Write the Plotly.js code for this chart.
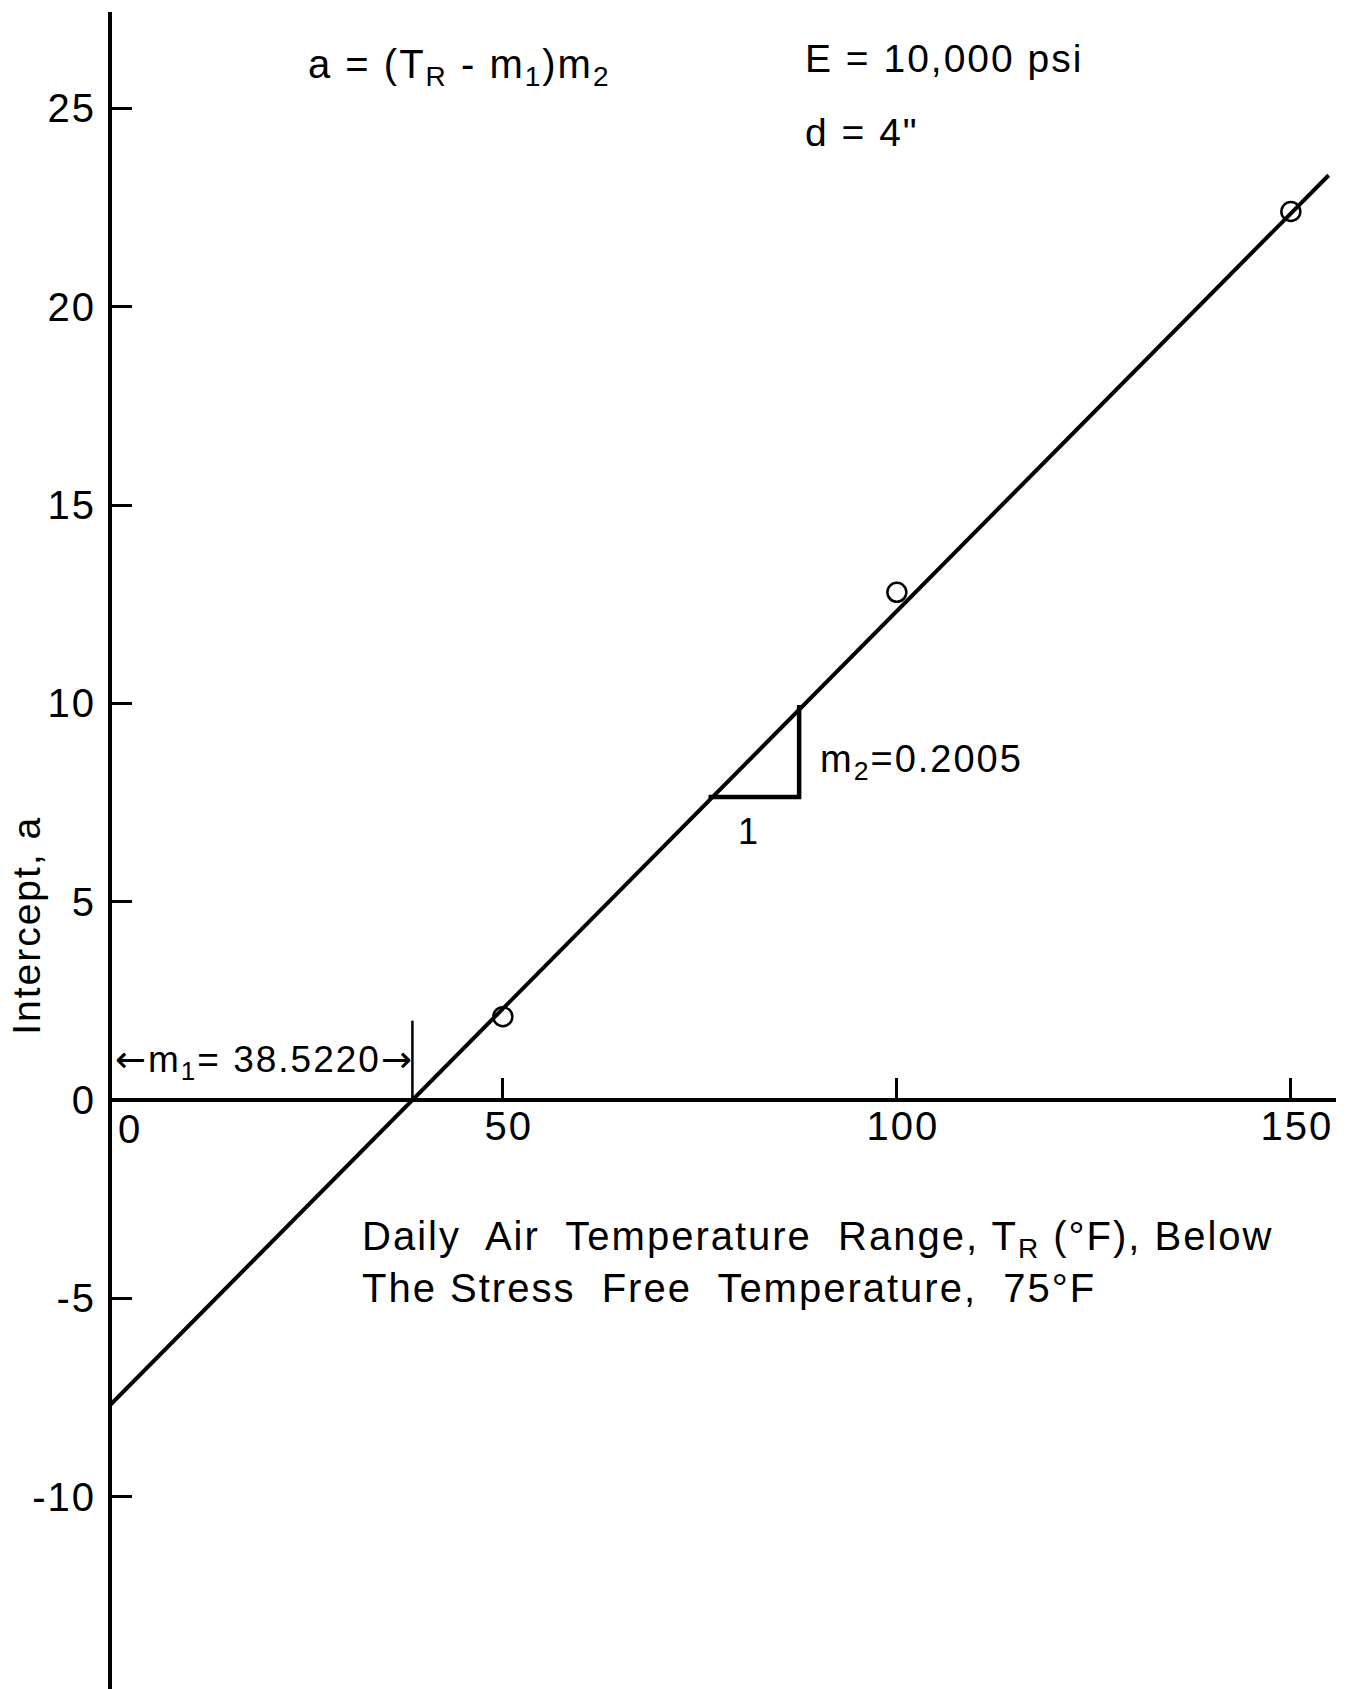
<!DOCTYPE html>
<html>
<head>
<meta charset="utf-8">
<script src="https://cdn.plot.ly/plotly-3.0.1.min.js"></script>
<style>
  html, body { margin: 0; padding: 0; background: #fff; }
  #chart { width: 1355px; height: 1689px; }
  text { letter-spacing: 2px; }
</style>
</head>
<body>
<div id="chart"></div>
<script>
// ---- data ----
const m1 = 38.5220;            // x-intercept of the fit line
const m2 = 0.2005;             // slope of the fit line
const tempRange = [50, 100, 150];          // T_R (°F)
const intercept = [2.1, 12.8, 22.4];       // a
const fitX = [0, 154.8];
const fitY = fitX.map(x => (x - m1) * m2);
const slopeTriX = [76.1, 87.6, 87.6];
const slopeTriY = [7.64, 7.64, 9.96];
const m1MarkX = [m1, m1];
const m1MarkY = [0, 2.0];
const xTickVals = [50, 100, 150];
const xTickText = ['50', '100', '150'];
const yTickVals = [-10, -5, 0, 5, 10, 15, 20, 25];
const yTickText = ['-10', '-5', '0', '5', '10', '15', '20', '25'];

const xRange = [0.4, 155.73];
const yRange = [-14.85, 27.43];
const FONT = 'Liberation Sans, Arial, sans-serif';
const ARROWFONT = 'DejaVu Sans';
const ink = '#000';

const traces = [
  { x: fitX, y: fitY, mode: 'lines', line: { color: ink, width: 4 }, hoverinfo: 'skip' },
  { x: tempRange, y: intercept, mode: 'markers',
    marker: { symbol: 'circle-open', size: 19, color: ink, line: { width: 2.5, color: ink } } },
  { x: slopeTriX, y: slopeTriY, mode: 'lines', line: { color: ink, width: 4.5 } },
  { x: m1MarkX, y: m1MarkY, mode: 'lines', line: { color: ink, width: 2.5 } }
];

const xPos = (0 - yRange[0]) / (yRange[1] - yRange[0]);

const ann = (o, size) => Object.assign({ showarrow: false, font: { family: FONT, size: size, color: ink } }, o);

const layout = {
  width: 1355, height: 1689,
  margin: { l: 112, r: 19, t: 12, b: 0 },
  paper_bgcolor: '#fff', plot_bgcolor: '#fff',
  showlegend: false,
  font: { family: FONT, color: ink },
  xaxis: {
    range: xRange, showgrid: false, zeroline: false,
    showline: true, linewidth: 4, linecolor: ink,
    ticks: 'inside', ticklen: 20, tickwidth: 3, tickcolor: ink,
    tickvals: xTickVals, ticktext: xTickText,
    tickfont: { family: FONT, size: 40, color: ink },
    anchor: 'free', position: xPos, ticklabelstandoff: -10, ticklabelshift: 6
  },
  yaxis: {
    range: yRange, showgrid: false, zeroline: false,
    showline: true, linewidth: 4, linecolor: ink,
    ticks: 'inside', ticklen: 20, tickwidth: 3, tickcolor: ink,
    tickvals: yTickVals, ticktext: yTickText,
    tickfont: { family: FONT, size: 40, color: ink },
    ticklabelstandoff: 4
  },
  annotations: [
    ann({ x: 25.0, y: 26.05, xanchor: 'left', yanchor: 'middle', text: 'a = (T<sub>R</sub> - m<sub>1</sub>)m<sub>2</sub>' }, 40),
    ann({ x: 88.1, y: 26.25, xanchor: 'left', yanchor: 'middle', text: 'E = 10,000 psi' }, 39),
    ann({ x: 88.1, y: 24.4, xanchor: 'left', yanchor: 'middle', text: 'd = 4"' }, 39),
    ann({ x: 90.0, y: 8.52, xanchor: 'left', yanchor: 'middle', text: 'm<sub>2</sub>=0.2005' }, 38),
    ann({ x: 81.3, y: 6.76, xanchor: 'center', yanchor: 'middle', text: '1' }, 36),
    ann({ x: 0.5, y: 0.96, xanchor: 'left', yanchor: 'middle',
          text: '<span style="font-family:' + ARROWFONT + '">←</span>m<sub>1</sub>= 38.5220<span style="font-family:' + ARROWFONT + '">→</span>' }, 37),
    ann({ x: 2.7, y: -0.73, xanchor: 'center', yanchor: 'middle', text: '0' }, 40),
    ann({ x: 31.9, y: -3.5, xanchor: 'left', yanchor: 'middle', text: 'Daily  Air  Temperature  Range, T<sub>R</sub> (°F), Below' }, 40),
    ann({ x: 31.9, y: -4.74, xanchor: 'left', yanchor: 'middle', text: 'The Stress  Free  Temperature,  75°F' }, 40),
    ann({ xref: 'paper', x: 0, xshift: -85, y: 4.39, xanchor: 'center', yanchor: 'middle', textangle: -90, text: 'Intercept, a' }, 39)
  ]
};

Plotly.newPlot('chart', traces, layout, { staticPlot: true, displayModeBar: false });
</script>
</body>
</html>
